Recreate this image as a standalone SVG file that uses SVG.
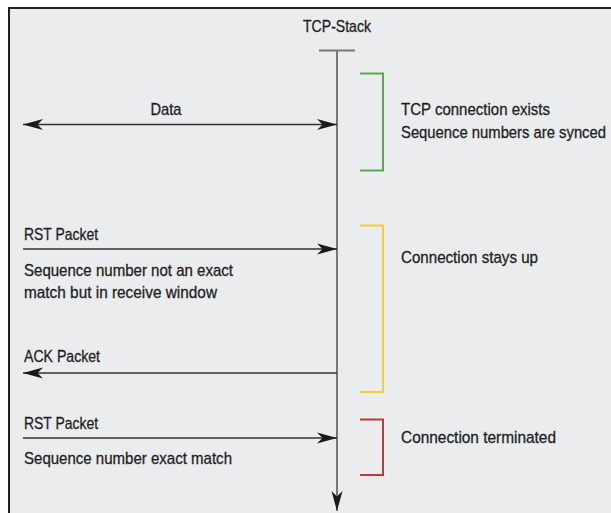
<svg xmlns="http://www.w3.org/2000/svg" width="611" height="513" viewBox="0 0 611 513">
  <style>
    text { font-family: "Liberation Sans", Arial, sans-serif; font-size: 17px; fill: #1e1e1e; stroke: #1e1e1e; stroke-width: 0.3; }
    .msg { stroke: #333; stroke-width: 1.4; fill: none; }
    .life { stroke: #777; stroke-width: 2; fill: none; }
    .br { stroke-width: 2; fill: none; }
  </style>
  <defs>
    <marker id="ah" markerUnits="userSpaceOnUse" markerWidth="24" markerHeight="14" viewBox="-22 -7 24 14" refX="0" refY="0" orient="auto-start-reverse">
      <path d="M0,0 L-20,-5.5 L-14.5,0 L-20,5.5 Z" fill="#1a1a1a"/>
    </marker>
  </defs>
  <rect width="611" height="513" fill="#ffffff"/>
  <rect x="9" y="8" width="620" height="520" fill="#EBECEE" stroke="#1e1e1e" stroke-width="2"/>

  <g id="tcp-stack">
    <text x="337" y="32" text-anchor="middle" textLength="68" lengthAdjust="spacingAndGlyphs">TCP-Stack</text>
    <line class="life" x1="319" y1="50.5" x2="355" y2="50.5"/>
    <line class="life" x1="337" y1="50.5" x2="337" y2="511" marker-end="url(#ah)"/>
  </g>

  <g id="phase-synced">
    <path class="br" stroke="#55ad45" d="M360,73.5 H383 V170.5 H360"/>
    <text x="401" y="115" textLength="149" lengthAdjust="spacingAndGlyphs">TCP connection exists</text>
    <text x="401" y="138" textLength="205" lengthAdjust="spacingAndGlyphs">Sequence numbers are synced</text>
  </g>

  <g id="phase-stays-up">
    <path class="br" stroke="#f0cf3a" d="M360,225.5 H383 V392 H360"/>
    <text x="401" y="263" textLength="137" lengthAdjust="spacingAndGlyphs">Connection stays up</text>
  </g>

  <g id="phase-terminated">
    <path class="br" stroke="#c23a30" d="M360,419.5 H383 V475 H360"/>
    <text x="401" y="443" textLength="155" lengthAdjust="spacingAndGlyphs">Connection terminated</text>
  </g>

  <g id="connectors">
    <line class="msg" x1="23" y1="124.5" x2="337" y2="124.5" marker-start="url(#ah)" marker-end="url(#ah)"/>
    <line class="msg" x1="23" y1="249" x2="337" y2="249" marker-end="url(#ah)"/>
    <line class="msg" x1="337" y1="373" x2="23" y2="373" marker-end="url(#ah)"/>
    <line class="msg" x1="23" y1="438" x2="337" y2="438" marker-end="url(#ah)"/>
  </g>

  <g id="labels">
    <text x="166" y="115" text-anchor="middle" textLength="31" lengthAdjust="spacingAndGlyphs">Data</text>
    <text x="24" y="240" textLength="74" lengthAdjust="spacingAndGlyphs">RST Packet</text>
    <text x="24" y="276" textLength="209" lengthAdjust="spacingAndGlyphs">Sequence number not an exact</text>
    <text x="24" y="298" textLength="193" lengthAdjust="spacingAndGlyphs">match but in receive window</text>
    <text x="24" y="362" textLength="76" lengthAdjust="spacingAndGlyphs">ACK Packet</text>
    <text x="24" y="429" textLength="74" lengthAdjust="spacingAndGlyphs">RST Packet</text>
    <text x="24" y="464" textLength="208" lengthAdjust="spacingAndGlyphs">Sequence number exact match</text>
  </g>
</svg>
